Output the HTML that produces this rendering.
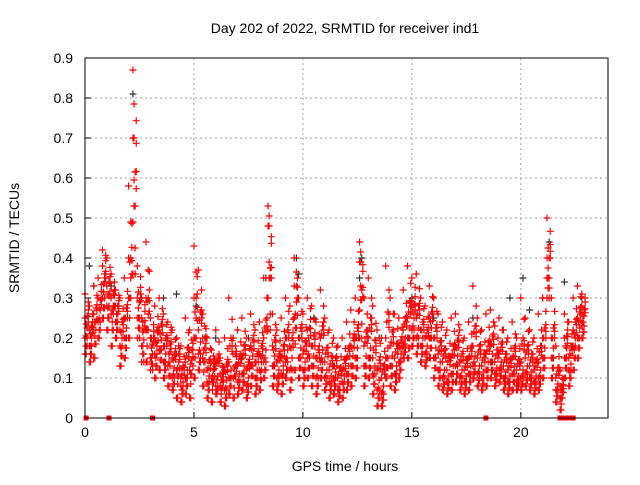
<!DOCTYPE html>
<html><head><meta charset="utf-8"><style>
body{margin:0;background:#fff;font-family:"Liberation Sans",sans-serif}
svg text{font-family:"Liberation Sans",sans-serif;font-size:14px;fill:#000}
</style></head><body>
<svg width="640" height="480" id="c">
<rect width="640" height="480" fill="#fff"/>
<text x="345" y="33" text-anchor="middle">Day 202 of 2022, SRMTID for receiver ind1</text>
<text x="345" y="471" text-anchor="middle">GPS time / hours</text>
<text transform="translate(19,238) rotate(-90)" text-anchor="middle">SRMTID / TECUs</text>
<g id="grid"></g><g id="ticks"></g><g id="marks"></g>
<rect x="85" y="58" width="523" height="360" fill="none" stroke="#000" stroke-width="1"/>
</svg>
<script>
const times=[0.0,0.2,0.4,0.6,0.8,1.0,1.2,1.4,1.6,1.8,2.0,2.2,2.4,2.6,2.8,3.0,3.2,3.4,3.6,3.8,4.0,4.2,4.4,4.6,4.8,5.0,5.2,5.4,5.6,5.8,6.0,6.2,6.4,6.6,6.8,7.0,7.2,7.4,7.6,7.8,8.0,8.2,8.4,8.6,8.8,9.0,9.2,9.4,9.6,9.8,10.0,10.2,10.4,10.6,10.8,11.0,11.2,11.4,11.6,11.8,12.0,12.2,12.4,12.6,12.8,13.0,13.2,13.4,13.6,13.8,14.0,14.2,14.4,14.6,14.8,15.0,15.2,15.4,15.6,15.8,16.0,16.2,16.4,16.6,16.8,17.0,17.2,17.4,17.6,17.8,18.0,18.2,18.4,18.6,18.8,19.0,19.2,19.4,19.6,19.8,20.0,20.2,20.4,20.6,20.8,21.0,21.2,21.4,21.6,21.8,22.0,22.2,22.4,22.6,22.8];
const redA=[.25,.22,.26,.30,.38,.33,.30,.28,.22,.25,.3,.87,.38,.3,.22,.25,.2,.22,.18,.2,.15,.12,.1,.14,.12,.2,.22,.15,.12,.1,.13,.08,.12,.14,.1,.13,.15,.12,.18,.14,.16,.2,.53,.18,.14,.15,.2,.18,.25,.2,.16,.22,.18,.15,.2,.14,.12,.13,.1,.12,.15,.18,.2,.44,.18,.2,.15,.12,.1,.2,.18,.15,.18,.22,.25,.28,.25,.22,.2,.25,.2,.16,.14,.12,.15,.18,.14,.12,.15,.18,.15,.13,.16,.18,.14,.16,.13,.12,.15,.12,.14,.15,.13,.12,.14,.2,.4,.2,.1,.05,.2,.15,.22,.25,.28];
const redB=[.16,.14,.15,.2,.25,.22,.18,.2,.13,.15,.2,.7,.25,.18,.14,.15,.1,.12,.1,.08,.07,.05,.04,.06,.05,.1,.12,.08,.05,.04,.06,.04,.03,.06,.05,.06,.07,.05,.08,.06,.07,.1,.48,.08,.07,.06,.1,.07,.12,.1,.08,.1,.08,.06,.1,.07,.05,.06,.04,.05,.07,.08,.1,.39,.08,.1,.06,.03,.03,.1,.08,.07,.1,.15,.15,.18,.16,.14,.13,.15,.1,.08,.07,.06,.07,.09,.07,.06,.07,.1,.08,.07,.08,.1,.08,.09,.07,.06,.07,.07,.07,.08,.07,.06,.07,.1,.35,.1,.04,.02,.1,.08,.12,.15,.2];
const redC=[.31,.28,.33,.35,.42,.40,.36,.32,.3,.35,.58,.49,.3,.25,.44,.2,.28,.3,.26,.24,.22,.2,.18,.25,.22,.43,.37,.26,.2,.17,.22,.15,.2,.3,.2,.22,.25,.2,.26,.22,.24,.35,.3,.26,.22,.25,.3,.28,.4,.3,.26,.3,.28,.24,.32,.25,.22,.2,.18,.2,.24,.27,.3,.27,.3,.35,.28,.22,.2,.38,.3,.26,.25,.32,.38,.35,.36,.3,.28,.33,.3,.26,.24,.22,.25,.26,.22,.2,.24,.33,.25,.22,.26,.27,.23,.25,.22,.2,.24,.2,.3,.25,.22,.2,.26,.3,.5,.3,.18,.12,.26,.24,.3,.33,.31];
const redD=[.2,.18,.22,.24,.3,.28,.26,.24,.18,.2,.4,.36,.2,.14,.3,.12,.16,.17,.14,.13,.1,.16,.08,.1,.17,.3,.16,.2,.09,.14,.08,.11,.07,.1,.16,.09,.11,.08,.13,.1,.12,.14,.22,.13,.1,.11,.14,.12,.33,.15,.12,.15,.13,.1,.14,.1,.09,.1,.07,.09,.11,.13,.15,.2,.13,.15,.11,.07,.06,.15,.13,.11,.14,.18,.2,.22,.2,.18,.16,.2,.15,.12,.1,.09,.11,.13,.1,.09,.11,.13,.11,.1,.12,.14,.11,.12,.1,.09,.11,.09,.1,.11,.1,.09,.1,.15,.3,.15,.07,.08,.15,.12,.18,.2,.23];
const blackT=[0.2,0.4,1.2,2.2,2.3,3.6,4.2,5.1,6.0,7.5,8.3,9.7,9.8,10.5,12.6,12.7,13.5,15.0,16.0,17.8,19.5,20.1,20.4,21.0,21.3,22.0,22.8];
const blackV=[.38,.33,.33,.81,.36,.3,.31,.28,.2,.2,.35,.4,.36,.25,.35,.4,.2,.3,.25,.25,.3,.35,.27,.3,.44,.34,.3];
const zeroT=[0.05,1.1,3.1,18.4,21.8,21.9,22.1,22.3,22.4];
const xTicks=[0,5,10,15,20];
const yTicks=[0,0.1,0.2,0.3,0.4,0.5,0.6,0.7,0.8,0.9];
const NS="http://www.w3.org/2000/svg";
const X=v=>85+v*(523/24), Y=v=>418-v*400;
function mk(tag,attrs,parent){const e=document.createElementNS(NS,tag);for(const k in attrs)e.setAttribute(k,attrs[k]);parent.appendChild(e);return e;}
const grid=document.getElementById('grid'),ticks=document.getElementById('ticks'),marks=document.getElementById('marks');
xTicks.forEach(t=>{
 if(t>0){const g=mk('line',{x1:X(t),x2:X(t),y1:58,y2:418,stroke:'#a0a0a0','stroke-dasharray':'2,3'},grid);
 
 }
 const tx=mk('text',{x:X(t),y:437,'text-anchor':'middle'},ticks);tx.textContent=t;
 
 
 mk('line',{x1:X(t),x2:X(t),y1:418,y2:412,stroke:'#000'},ticks);
});
yTicks.forEach(t=>{
 if(t>0&&t<0.9){const g=mk('line',{x1:85,x2:608,y1:Y(t),y2:Y(t),stroke:'#a0a0a0','stroke-dasharray':'2,3'},grid);
 
 }
 const tx=mk('text',{x:73,y:Y(t)+5,'text-anchor':'end'},ticks);tx.textContent=(t===0?'0':t.toFixed(1));
 
 
 mk('line',{x1:85,x2:91,y1:Y(t),y2:Y(t),stroke:'#000'},ticks);
});
function plus(t,v,col,name){
 const x=X(t),y=Y(v);
 const p=mk('path',{d:`M${x-3.5},${y}H${x+3.5}M${x},${y-3.5}V${y+3.5}`,stroke:col,'stroke-width':1.2,fill:'none'},marks);
 
 
}
blackT.forEach((t,i)=>plus(t,blackV[i],'#333','black-point'));
[redA,redB,redC,redD].forEach(arr=>times.forEach((t,i)=>{
 plus(t,arr[i],'#ff0000','red-point');
 plus(t+0.1,(arr[i]+redD[i])/2,'#ff0000','red-point');
 plus(t+0.05,(arr[i]+redB[i])/2,'#ff0000','red-point');
 plus(t+0.15,(arr[i]+redA[i]+redC[i])/3,'#ff0000','red-point');
}));
zeroT.forEach(t=>{
 const r=mk('rect',{x:X(t)-2.5,y:Y(0)-2.5,width:5,height:5,fill:'#ff0000'},marks);
 
 
});
</script>
</body></html>
